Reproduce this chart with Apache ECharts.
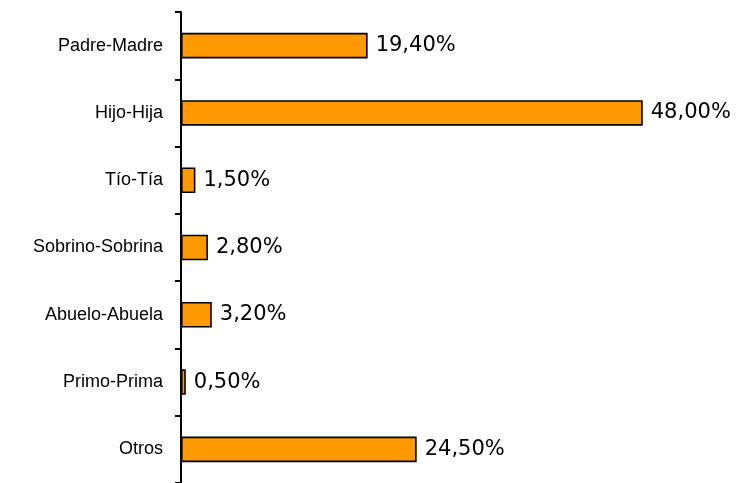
<!DOCTYPE html>
<html>
<head>
<meta charset="utf-8">
<script src="https://cdn.jsdelivr.net/npm/echarts@6/dist/echarts.min.js"></script>
<style>
  html, body { margin: 0; padding: 0; background: #fff; }
  #chart { width: 738px; height: 483px; }
</style>
</head>
<body>
<div id="chart"></div>
<script>
// parentesco
var categories = ['Padre-Madre', 'Hijo-Hija', 'Tío-Tía', 'Sobrino-Sobrina', 'Abuelo-Abuela', 'Primo-Prima', 'Otros'];
var values = [19.4, 48.0, 1.5, 2.8, 3.2, 0.5, 24.5];

var myChart = echarts.init(document.getElementById('chart'));

var option = {
  animation: false,
  grid: {
    left: 181,
    top: 12,
    width: 481,
    height: 474,
    containLabel: false
  },
  xAxis: {
    type: 'value',
    min: 0,
    max: 50,
    show: false
  },
  yAxis: {
    type: 'category',
    data: categories,
    inverse: true,
    axisLine: { show: true, lineStyle: { color: '#000', width: 2 } },
    axisTick: { show: true, length: 6, lineStyle: { color: '#000', width: 2 } },
    axisLabel: {
      margin: 18,
      color: '#000',
      fontFamily: 'Liberation Sans',
      fontSize: 18
    },
    splitLine: { show: false }
  },
  series: [{
    type: 'bar',
    data: values,
    barWidth: '38%',
    itemStyle: {
      color: '#FF9900',
      borderColor: '#000',
      borderWidth: 1.6
    },
    label: {
      show: true,
      position: 'right',
      distance: 8,
      color: '#000',
      fontFamily: 'DejaVu Sans',
      fontSize: 21,
      formatter: function (p) {
        return p.value.toFixed(2).replace('.', ',') + '%';
      }
    }
  }]
};
myChart.setOption(option);
</script>
</body>
</html>
